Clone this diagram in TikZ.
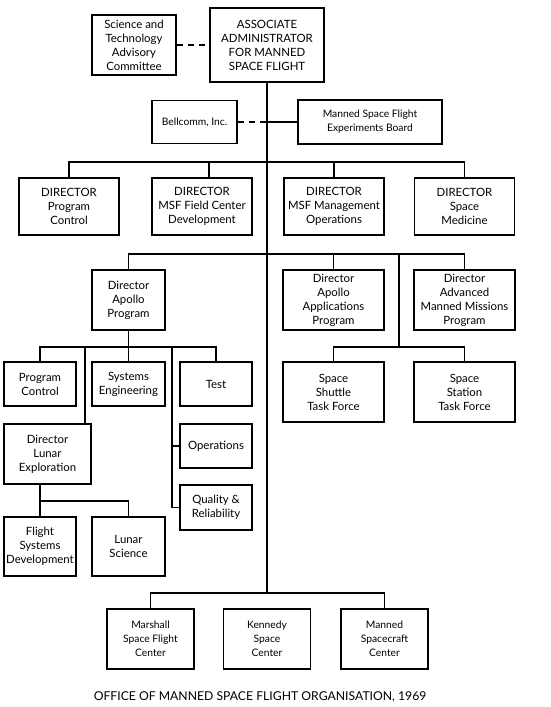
\documentclass[tikz,border=0pt]{standalone}
\usepackage{fontspec}
\setmainfont{Lato}

\tikzstyle{every node}=[font=\fontsize{11.4}{14}\selectfont, inner sep=0pt, align=center]
\tikzstyle{unit}=[draw, line width=1.9pt]
\tikzstyle{small}=[font=\fontsize{10.3}{14}\selectfont]
\tikzstyle{link}=[line width=1.7pt]
\tikzstyle{staff}=[line width=1.7pt, dash pattern=on 6pt off 5pt]

\begin{document}
\begin{tikzpicture}[x=1pt, y=-1pt]
  \useasboundingbox (0,0) rectangle (550,707);
  \node[unit, minimum width=114, minimum height=74] (assoc) at (267,45) {ASSOCIATE\\ADMINISTRATOR\\FOR MANNED\\SPACE FLIGHT};
  \node[unit, minimum width=84, minimum height=60] (stac) at (134,45) {Science and\\Technology\\Advisory\\Committee};
  \node[unit, small, minimum width=85, minimum height=43] (bell) at (194.5,122) {Bellcomm, Inc.};
  \node[unit, small, minimum width=144, minimum height=44] (msfeb) at (370,122) {Manned Space Flight\\Experiments Board};
  \node[unit, minimum width=100, minimum height=57] (dpc) at (69,206.5) {DIRECTOR\\Program\\Control};
  \node[unit, minimum width=100, minimum height=57] (dfc) at (202,206.5) {DIRECTOR\\MSF Field Center\\Development};
  \node[unit, minimum width=100, minimum height=57] (dmo) at (334,206.5) {DIRECTOR\\MSF Management\\Operations};
  \node[unit, minimum width=100, minimum height=57] (dsm) at (464.5,206.5) {DIRECTOR\\Space\\Medicine};
  \node[unit, minimum width=73, minimum height=60] (dap) at (128.5,300) {Director\\Apollo\\Program};
  \node[unit, minimum width=101, minimum height=60] (daap) at (333.5,300) {Director\\Apollo\\Applications\\Program};
  \node[unit, minimum width=101, minimum height=60] (damm) at (464.5,300) {Director\\Advanced\\Manned Missions\\Program};
  \node[unit, minimum width=72, minimum height=44] (pc) at (40,384) {Program\\Control};
  \node[unit, minimum width=73, minimum height=44] (se) at (128.5,384) {Systems\\Engineering};
  \node[unit, minimum width=72, minimum height=44] (test) at (216,384) {Test};
  \node[unit, minimum width=87, minimum height=60] (dle) at (47.5,454) {Director\\Lunar\\Exploration};
  \node[unit, minimum width=72, minimum height=44] (ops) at (216,446) {Operations};
  \node[unit, minimum width=72, minimum height=45] (qr) at (216,507.5) {Quality \&\\Reliability};
  \node[unit, minimum width=72, minimum height=59] (fsd) at (40,546.5) {Flight\\Systems\\Development};
  \node[unit, minimum width=73, minimum height=59] (ls) at (128.5,546.5) {Lunar\\Science};
  \node[unit, minimum width=101, minimum height=60] (sstf) at (333.5,392) {Space\\Shuttle\\Task Force};
  \node[unit, minimum width=101, minimum height=60] (sttf) at (464.5,392) {Space\\Station\\Task Force};
  \node[unit, small, minimum width=87, minimum height=60] (msfc) at (150.5,639) {Marshall\\Space Flight\\Center};
  \node[unit, small, minimum width=87, minimum height=60] (ksc) at (267,639) {Kennedy\\Space\\Center};
  \node[unit, small, minimum width=87, minimum height=60] (msc) at (384.5,639) {Manned\\Spacecraft\\Center};
  \node[font=\fontsize{12.2}{14}\selectfont] (caption) at (260,697) {OFFICE OF MANNED SPACE FLIGHT ORGANISATION, 1969};

  \coordinate (dbus) at (267,162);
  \coordinate (pbus) at (267,254);
  \coordinate (tbus) at (399,347);
  \coordinate (abus) at (128,347);
  \coordinate (lbr) at (85,347);
  \coordinate (obr) at (172,347);
  \coordinate (lbus) at (41,501);
  \coordinate (cbus) at (267,593);

  \draw[staff] (stac.east) -- (assoc.west);
  \draw[link] (assoc.south) -- (cbus);
  \draw[staff] (bell.east) -- (bell.east -| assoc.south);
  \draw[link] (msfeb.west) -- (msfeb.west -| assoc.south);
  \draw[link] (dpc.north) |- (dbus) -| (dsm.north);
  \draw[link] ([xshift=7pt]dfc.north) -- ([xshift=7pt]dfc.north |- dbus);
  \draw[link] (dmo.north) -- (dmo.north |- dbus);
  \draw[link] (dap.north) |- (pbus) -| (damm.north);
  \draw[link] (daap.north) -- (daap.north |- pbus);
  \draw[link] (tbus |- pbus) -- (tbus);
  \draw[link] (sstf.north) |- (tbus) -| (sttf.north);
  \draw[link] (dap.south) -- (se.north);
  \draw[link] (pc.north) |- (abus) -| (test.north);
  \draw[link] (lbr) -- (lbr |- dle.north);
  \draw[link] (obr) |- (ops.west);
  \draw[link] (obr) |- (qr.west);
  \draw[link] (dle.south -| fsd.north) -- (fsd.north);
  \draw[link] (fsd.north |- lbus) -| (ls.north);
  \draw[link] (msfc.north) |- (cbus) -| (msc.north);
\end{tikzpicture}
\end{document}
